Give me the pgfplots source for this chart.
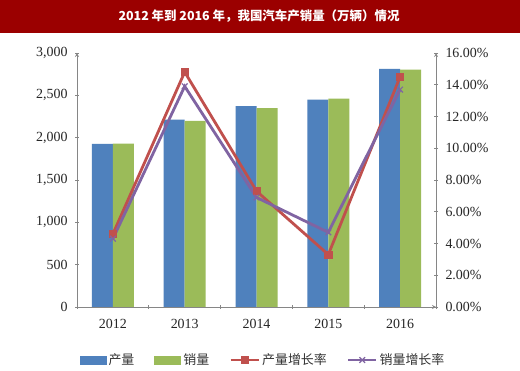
\documentclass[border=0pt]{standalone}
\usepackage{fontspec}
\setmainfont{Liberation Serif}
\newfontfamily\cjk{Noto Sans CJK SC}
\usepackage{pgfplots}
\pgfplotsset{compat=1.18}
\definecolor{cblue}{HTML}{4F81BD}
\definecolor{cgreen}{HTML}{9BBB59}
\definecolor{cred}{HTML}{C0504D}
\definecolor{cpurple}{HTML}{8064A2}
\definecolor{titlered}{HTML}{9B0000}
\definecolor{axgray}{HTML}{868686}
\pgfplotsset{
  barleg/.style={legend image code/.code={\fill[draw=none,##1] (0bp,-4.5bp) rectangle (27bp,4.5bp);}},
  linleg/.style={legend image code/.code={\draw[mark repeat=2,mark phase=2,##1] plot coordinates {(0bp,0bp)(14bp,0bp)(28bp,0bp)};}},
  common/.style={
    at={(77bp,64bp)}, anchor=south west,
    scale only axis, width=359bp, height=254bp,
    xmin=-0.5, xmax=4.5,
    axis line style={axgray, line width=0.8bp, -},
    tick align=outside,
    tick style={axgray, line width=0.8bp},
    major tick length=4bp, minor tick length=4bp,
    /pgf/number format/assume math mode=true,
    ticklabel style={font=\fontsize{14}{16}\selectfont, text=black!85},
  }
}
\begin{document}
\begin{tikzpicture}
\path[fill=white] (0bp,0bp) rectangle (520bp,371bp);
\fill[titlered] (0bp,338bp) rectangle (520bp,371bp);
\node[white,font=\cjk\bfseries\fontsize{12.5}{14}\selectfont] at (259bp,354.5bp) {2012 年到 2016 年，我国汽车产销量（万辆）情况};
\begin{axis}[common,
  ymin=0, ymax=3000,
  axis x line=bottom, axis y line=left,
  xtick={0,...,4}, xticklabels={2012,2013,2014,2015,2016},
  major x tick style={draw=none},
  minor xtick={-0.5,0.5,1.5,2.5,3.5,4.5},
  ytick={0,500,...,3000},
  yticklabel style={/pgf/number format/1000 sep={,}, xshift=-4bp},
  xticklabel style={yshift=-7bp},
]
\addplot[ybar, bar width=21bp, bar shift=-10.5bp, fill=cblue, draw=none] coordinates {(0,1927) (1,2212) (2,2372) (3,2450) (4,2812)};
\addplot[ybar, bar width=21bp, bar shift=10.5bp, fill=cgreen, draw=none] coordinates {(0,1931) (1,2198) (2,2349) (3,2460) (4,2803)};
\end{axis}
\begin{axis}[common,
  ymin=0, ymax=16,
  axis x line=none, axis y line=right,
  ytick={0,2,...,16},
  yticklabel={\pgfmathprintnumber[fixed,fixed zerofill,precision=2]{\tick}\%},
  yticklabel style={xshift=4bp},
  legend columns=4,
  legend style={draw=none, fill=none, at={(0.518,-0.209)}, anchor=center,
    font=\cjk\fontsize{13}{15}\selectfont, text=black!80,
    /tikz/every even column/.append style={column sep=18bp}},
]
\addlegendimage{barleg, fill=cblue}
\addlegendentry{产量}
\addlegendimage{barleg, fill=cgreen}
\addlegendentry{销量}
\addplot[linleg, cred, line width=2.8bp, mark=square*, mark size=3.6bp, mark options={fill=cred, solid, line width=0.5bp}] coordinates {(0,4.6) (1,14.8) (2,7.3) (3,3.3) (4,14.5)};
\addlegendentry{产量增长率}
\addplot[linleg, cpurple, line width=2.8bp, mark=x, mark size=4bp, mark options={line width=1.2bp}] coordinates {(0,4.3) (1,13.9) (2,6.9) (3,4.7) (4,13.7)};
\addlegendentry{销量增长率}
\end{axis}
\end{tikzpicture}
\end{document}
